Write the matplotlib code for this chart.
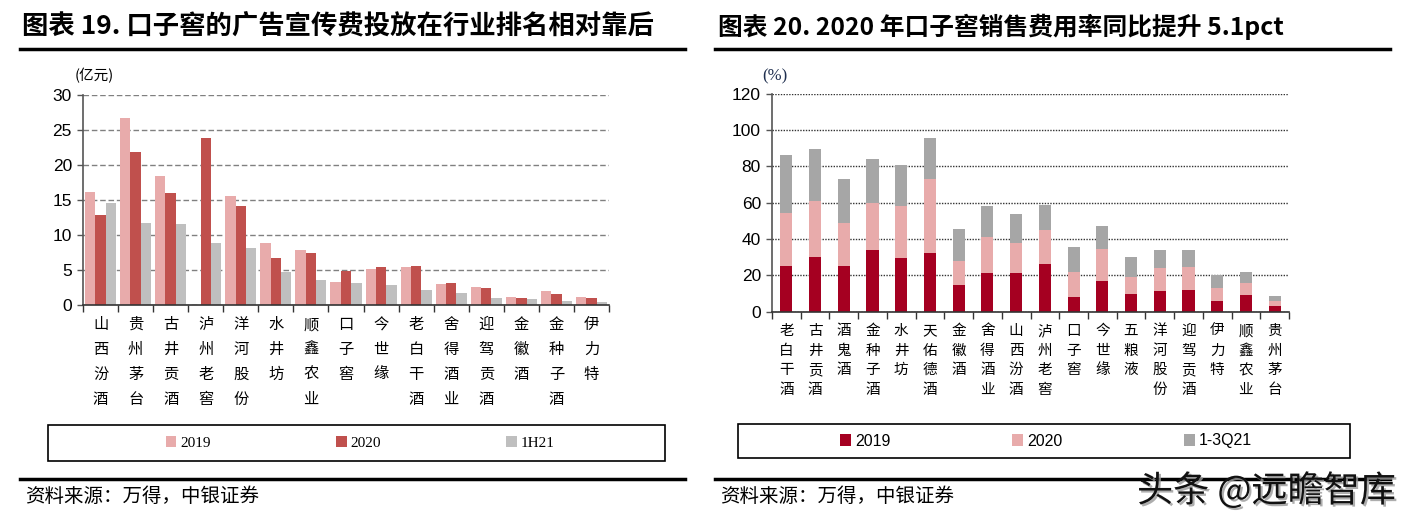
import matplotlib
matplotlib.use('Agg')
import matplotlib.pyplot as plt
import matplotlib.patheffects as pe
import numpy as np
from matplotlib.patches import Rectangle
from matplotlib.lines import Line2D

W, H = 1404, 529
CJK = ['Noto Sans CJK SC', 'DejaVu Sans']
NUM = ['Liberation Sans Narrow', 'Liberation Sans', 'Noto Sans CJK SC']
SERIF = ['Liberation Serif', 'Noto Sans CJK SC']

# 图表19 广告宣传费 (亿元)
brands_ad = ['山西汾酒', '贵州茅台', '古井贡酒', '泸州老窖', '洋河股份', '水井坊', '顺鑫农业', '口子窖',
             '今世缘', '老白干酒', '舍得酒业', '迎驾贡酒', '金徽酒', '金种子酒', '伊力特']
ad_2019 = [16.1, 26.7, 18.4, 0.0, 15.6, 8.9, 7.8, 3.3, 5.1, 5.5, 3.0, 2.6, 1.1, 1.95, 1.1]
ad_2020 = [12.9, 21.9, 15.95, 23.9, 14.1, 6.7, 7.5, 4.8, 5.5, 5.6, 3.1, 2.4, 0.95, 1.6, 1.0]
ad_1h21 = [14.6, 11.7, 11.6, 8.9, 8.2, 4.7, 3.6, 3.1, 2.9, 2.2, 1.7, 0.95, 0.8, 0.6, 0.5]
ad_labels = ['2019', '2020', '1H21']
ad_colors = ['#E8ABAB', '#C0504D', '#BFBFBF']

# 图表20 销售费用率 (%)
brands_rate = ['老白干酒', '古井贡酒', '酒鬼酒', '金种子酒', '水井坊', '天佑德酒', '金徽酒', '舍得酒业', '山西汾酒',
               '泸州老窖', '口子窖', '今世缘', '五粮液', '洋河股份', '迎驾贡酒', '伊力特', '顺鑫农业', '贵州茅台']
rate_2019 = [25.3, 30.1, 25.1, 33.9, 29.7, 32.1, 14.7, 21.3, 21.3, 26.2, 8.1, 17.1, 9.5, 11.4, 11.9, 5.9, 9.2, 3.1]
rate_2020 = [28.8, 30.6, 23.5, 25.9, 28.3, 40.9, 13.2, 20.0, 16.5, 18.8, 13.9, 17.4, 9.8, 12.5, 12.5, 7.1, 6.4, 2.6]
rate_1_3q21 = [32.1, 28.8, 24.2, 24.4, 22.9, 22.4, 17.8, 16.9, 16.1, 13.5, 13.4, 12.5, 11.0, 9.9, 9.7, 7.0, 6.2, 2.7]
rate_labels = ['2019', '2020', '1-3Q21']
rate_colors = ['#A50021', '#E8ABAB', '#A6A6A6']


def box(l, t, r, b):
    return [l / W, 1 - b / H, (r - l) / W, (b - t) / H]


def hline(x0, x1, y, lw=2.5):
    fig.add_artist(Line2D([x0 / W, x1 / W], [1 - y / H, 1 - y / H], color='black', lw=lw))


def style_axis(ax, n, ticks, gridstyle, gridcolor):
    ax.set_xlim(-0.5, n - 0.5)
    ax.set_yticks(ticks)
    ax.spines['top'].set_visible(False)
    ax.spines['right'].set_visible(False)
    ax.spines['left'].set_color('#555555')
    ax.spines['bottom'].set_color('#333333')
    ax.spines['left'].set_linewidth(1.2)
    ax.spines['bottom'].set_linewidth(1.2)
    ax.yaxis.grid(True, linestyle=gridstyle, color=gridcolor, lw=1)
    ax.set_axisbelow(True)
    ax.tick_params(axis='y', length=4, width=1, color='#555555', pad=4)
    ax.set_xticks(np.arange(-0.5, n, 1), minor=True)
    ax.tick_params(axis='x', which='minor', length=5, width=1, color='#333333')
    ax.tick_params(axis='x', which='major', length=0)
    for t in ax.get_yticklabels():
        t.set_family(NUM)
        t.set_fontsize(12.5)


fig = plt.figure(figsize=(W / 100, H / 100), dpi=100)
TITLE = ['Liberation Sans Narrow', 'Noto Sans CJK SC']

# ---------- left chart ----------
fig.text(22 / W, 1 - 27 / H, '图表 19. 口子窖的广告宣传费投放在行业排名相对靠后', family=TITLE,
         weight='bold', fontsize=19, va='center', ha='left')
hline(20, 685, 49)

ax1 = fig.add_axes(box(83, 95, 609, 305))
x = np.arange(len(brands_ad))
w = 0.295
for i, (vals, c) in enumerate(zip([ad_2019, ad_2020, ad_1h21], ad_colors)):
    ax1.bar(x + (i - 1) * w, vals, w, color=c, label=ad_labels[i])
ax1.set_ylim(0, 30)
style_axis(ax1, len(brands_ad), np.arange(0, 31, 5), (0, (4, 2)), '#808080')
ax1.set_xticks(x)
ax1.set_xticklabels(['\n'.join(b) for b in brands_ad], family=CJK, fontsize=11, linespacing=1.62)
ax1.tick_params(axis='x', which='major', pad=8)
fig.text(75 / W, 1 - 76 / H, '(亿元)', family=CJK, fontsize=10.5, va='center', ha='left')

h1, l1 = ax1.get_legend_handles_labels()
fig.legend(h1, l1, loc='center', bbox_to_anchor=(360 / W, 1 - 443 / H), ncol=3, frameon=False,
           handlelength=0.7, handleheight=0.7, handletextpad=0.25, columnspacing=8.2,
           prop={'family': SERIF, 'size': 11})
fig.add_artist(Rectangle((48 / W, 1 - 461 / H), (665 - 48) / W, 36 / H, fill=False,
                         edgecolor='black', lw=1.2, transform=fig.transFigure))
hline(20, 685, 479)
fig.text(25 / W, 1 - 497 / H, '资料来源：万得，中银证券', family=CJK, fontsize=14, va='center', ha='left',
         style='italic')

# ---------- right chart ----------
fig.text(718 / W, 1 - 27 / H, '图表 20. 2020 年口子窖销售费用率同比提升 5.1pct', family=TITLE,
         weight='bold', fontsize=17.8, va='center', ha='left')
hline(715, 1390, 49)

ax2 = fig.add_axes(box(772, 93.7, 1289, 311.7))
x2 = np.arange(len(brands_rate))
bottom = np.zeros(len(brands_rate))
for vals, c, lab in zip([rate_2019, rate_2020, rate_1_3q21], rate_colors, rate_labels):
    ax2.bar(x2, vals, 0.42, bottom=bottom, color=c, label=lab)
    bottom += np.array(vals)
ax2.set_ylim(0, 120)
style_axis(ax2, len(brands_rate), np.arange(0, 121, 20), (0, (1, 1)), '#333333')
ax2.set_xticks(x2)
ax2.set_xticklabels(['\n'.join(b) for b in brands_rate], family=CJK, fontsize=10.5, linespacing=1.5)
ax2.tick_params(axis='x', which='major', pad=9)
fig.text(762 / W, 1 - 76 / H, '(%)', family=SERIF, fontsize=12, va='center', ha='left', color='#1F2F4F')

h2, l2 = ax2.get_legend_handles_labels()
fig.legend(h2, l2, loc='center', bbox_to_anchor=(1046 / W, 1 - 441 / H), ncol=3, frameon=False,
           handlelength=0.7, handleheight=0.7, handletextpad=0.25, columnspacing=7.6,
           prop={'family': NUM, 'size': 11.5})
fig.add_artist(Rectangle((738 / W, 1 - 458 / H), (1350 - 738) / W, 34 / H, fill=False,
                         edgecolor='black', lw=1.2, transform=fig.transFigure))
hline(715, 1390, 479)
fig.text(720 / W, 1 - 497 / H, '资料来源：万得，中银证券', family=CJK, fontsize=14, va='center', ha='left',
         style='italic')

fig.text(1396 / W, 1 - 491 / H, '头条 @远瞻智库', family=CJK, fontsize=26, va='center', ha='right', color='#111111',
         path_effects=[pe.withSimplePatchShadow(offset=(1.5, -1.5), shadow_rgbFace='#999999', alpha=0.8)])

fig.savefig('out.png', dpi=100)
